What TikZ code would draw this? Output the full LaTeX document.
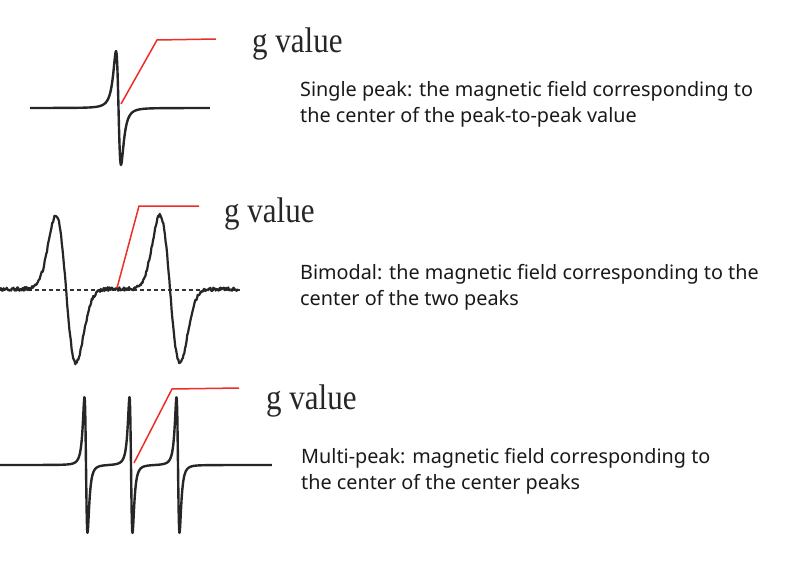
\documentclass[tikz,border=0pt]{standalone}
\usepackage{fontspec}
\setmainfont{Liberation Serif}
\newfontfamily\descfont{Noto Sans}
\usepackage{graphicx}
\usepackage{tikz}
\usetikzlibrary{positioning}
\definecolor{pointred}{RGB}{236,45,40}
\newcommand{\gtall}[1]{\scalebox{1}[1.15]{#1}}

\begin{document}
\begin{tikzpicture}[x=1pt, y=-1pt,
    curve style/.style={line width=2.4pt, draw=black!85, line join=round},
    pointer style/.style={line width=1.5pt, draw=pointred},
    gval style/.style={anchor=base west, inner sep=0pt, font=\fontsize{31}{31}\selectfont, text=black!85},
    desc style/.style={anchor=base west, inner sep=0pt, align=left, font=\descfont\fontsize{19.8}{26}\selectfont, text=black!90},
    declare function={lorder(\u)=3.079*\u/(1+\u*\u)/(1+\u*\u);
                      gaussder(\u)=\u*exp(0.5-min(\u*\u/2,40));}
]
\useasboundingbox (0,0) rectangle (792,583);
\pgfmathsetseed{7}

% single peak
\draw[curve style] plot[domain=30:210, samples=450] (\x, {108+57*lorder((\x-118.5)/4.3)});
\coordinate (c1) at (121,104);
\coordinate (k1) at (157,40);
\coordinate (e1) at (216,39);
\draw[pointer style] (c1) -- (k1) -- (e1);
\node[gval style] (g1) at (252,53) {\gtall{g value}};
\node[desc style] (d1) at (300,123) {Single peak: the magnetic field corresponding to\\the center of the peak-to-peak value};

% bimodal
\draw[line width=1.2pt, dashed, dash pattern=on 4pt off 3pt, black!80] (0,290) -- (240,290);
\draw[curve style, line width=2.2pt] plot[domain=0:238, samples=320]
    (\x, {289+74*gaussder((\x-66)/10)+74*gaussder((\x-170)/10)+1.8*rand});
\coordinate (c2) at (117,288);
\coordinate (k2) at (139,206);
\coordinate (e2) at (199,206);
\draw[pointer style] (c2) -- (k2) -- (e2);
\node[gval style] (g2) at (224,222) {\gtall{g value}};
\node[desc style] (d2) at (300,305) {Bimodal: the magnetic field corresponding to the\\center of the two peaks};

% multi-peak
\draw[curve style] plot[domain=0:272, samples=900]
    (\x, {465+68*lorder((\x-86)/2.6)+68*lorder((\x-131)/2.6)+68*lorder((\x-178)/2.6)});
\coordinate (c3) at (134,463);
\coordinate (k3) at (172,389);
\coordinate (e3) at (239,388);
\draw[pointer style] (c3) -- (k3) -- (e3);
\node[gval style] (g3) at (266,409) {\gtall{g value}};
\node[desc style] (d3) at (301,489) {Multi-peak: magnetic field corresponding to\\the center of the center peaks};
\end{tikzpicture}
\end{document}
